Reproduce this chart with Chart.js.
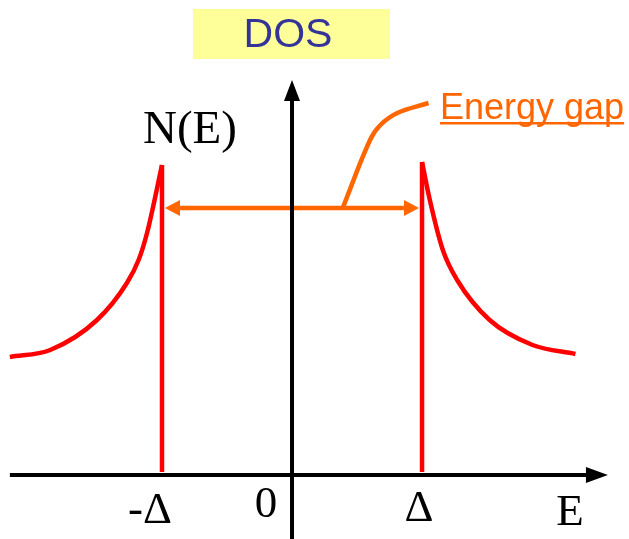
<!DOCTYPE html>
<html>
<head>
<meta charset="utf-8">
<script src="https://cdn.jsdelivr.net/npm/chart.js@4.4.1/dist/chart.umd.min.js"></script>
<style>
html,body{margin:0;padding:0;background:#fff;}
#wrap{width:629px;height:539px;}
</style>
</head>
<body>
<div id="wrap"><canvas id="c" width="629" height="539"></canvas></div>
<script>
// Energy in units of the gap Δ, density of states in arbitrary units
const leftE  = [-2.17, -1.86, -1.50, -1.27, -1.18, -1.115, -1.0];
const leftN  = [1.18, 1.25, 1.55, 1.92, 2.15, 2.42, 3.10];
const rightE = [1.0, 1.06, 1.16, 1.27, 1.52, 1.85, 2.18];
const rightN = [3.13, 2.75, 2.25, 1.95, 1.55, 1.30, 1.21];
const gapEdges = [-1, 1];
const gapArrowN = 2.67;
const leaderE = [0.39, 0.60, 0.68, 0.81, 1.05];
const leaderN = [2.67, 3.35, 3.50, 3.62, 3.72];
const tickValues = [-1, 0, 1];
const tickLabels = ['-Δ', '0', 'Δ'];
const axisLabelX = 'E';
const axisLabelY = 'N(E)';
const titleText = 'DOS';
const annotText = 'Energy gap';

const X_MIN = -2.246, X_MAX = 2.592, Y_MIN = -0.64, Y_MAX = 4.75;

const toPts = (xs, ys) => xs.map((x, i) => ({x: x, y: ys[i]}));

const RED = '#ff0000', ORANGE = '#ff6600';

const decor = {
  id: 'decor',
  afterDatasetsDraw(chart) {
    const ctx = chart.ctx;
    const xs = chart.scales.x, ys = chart.scales.y;
    const px = v => xs.getPixelForValue(v), py = v => ys.getPixelForValue(v);
    ctx.save();
    // axes
    ctx.strokeStyle = '#000'; ctx.fillStyle = '#000'; ctx.lineWidth = 4; ctx.lineCap = 'butt';
    const y0 = py(0), x0 = px(0);
    const xStart = px(-2.17), xTip = px(2.43);
    const yBottom = py(Y_MIN), yTip = py(3.95);
    ctx.beginPath(); ctx.moveTo(xStart, y0); ctx.lineTo(xTip - 18, y0); ctx.stroke();
    ctx.beginPath(); ctx.moveTo(xTip, y0); ctx.lineTo(xTip - 22, y0 - 8); ctx.lineTo(xTip - 22, y0 + 8); ctx.closePath(); ctx.fill();
    ctx.beginPath(); ctx.moveTo(x0, yBottom); ctx.lineTo(x0, yTip + 18); ctx.stroke();
    ctx.beginPath(); ctx.moveTo(x0, yTip); ctx.lineTo(x0 - 8, yTip + 21); ctx.lineTo(x0 + 8, yTip + 21); ctx.closePath(); ctx.fill();
    // gap arrow heads
    ctx.fillStyle = ORANGE;
    const ga = py(gapArrowN);
    const lt = px(gapEdges[0]) + 3, rt = px(gapEdges[1]) - 3;
    ctx.beginPath(); ctx.moveTo(lt, ga); ctx.lineTo(lt + 15, ga - 8); ctx.lineTo(lt + 15, ga + 8); ctx.closePath(); ctx.fill();
    ctx.beginPath(); ctx.moveTo(rt, ga); ctx.lineTo(rt - 15, ga - 8); ctx.lineTo(rt - 15, ga + 8); ctx.closePath(); ctx.fill();
    // tick labels (serif)
    ctx.fillStyle = '#000';
    ctx.font = '45px "Liberation Serif", "DejaVu Serif", serif';
    ctx.textBaseline = 'alphabetic';
    ctx.textAlign = 'center';
    const tickOffsets = [-12, -26, -3];
    const tickBase = [523, 517, 521];
    tickValues.forEach((v, i) => {
      ctx.fillText(tickLabels[i], px(v) + tickOffsets[i], tickBase[i]);
    });
    ctx.fillText(axisLabelX, 570, 525);
    ctx.font = '47px "Liberation Serif", "DejaVu Serif", serif';
    ctx.fillText(axisLabelY, 190, 143);
    // title box
    ctx.fillStyle = '#ffff99';
    ctx.fillRect(193, 9, 197, 50);
    ctx.fillStyle = '#333399';
    ctx.font = '41px "Liberation Sans", Arial, sans-serif';
    ctx.textAlign = 'center';
    ctx.fillText(titleText, 288, 47);
    // annotation
    ctx.fillStyle = ORANGE;
    ctx.font = '36px "Liberation Sans", Arial, sans-serif';
    ctx.textAlign = 'left';
    ctx.fillText(annotText, 440, 119);
    const w = ctx.measureText(annotText).width;
    ctx.fillRect(440, 122, w, 2.5);
    ctx.restore();
  }
};

new Chart(document.getElementById('c'), {
  type: 'scatter',
  data: {
    datasets: [
      {data: toPts(leftE, leftN), showLine: true, borderColor: RED, borderWidth: 4.5, pointRadius: 0, cubicInterpolationMode: 'monotone'},
      {data: toPts(rightE, rightN), showLine: true, borderColor: RED, borderWidth: 4.5, pointRadius: 0, cubicInterpolationMode: 'monotone'},
      {data: [{x: gapEdges[0], y: leftN[leftN.length - 1]}, {x: gapEdges[0], y: 0.03}], showLine: true, borderColor: RED, borderWidth: 4.5, pointRadius: 0},
      {data: [{x: gapEdges[1], y: rightN[0]}, {x: gapEdges[1], y: 0.03}], showLine: true, borderColor: RED, borderWidth: 4.5, pointRadius: 0},
      {data: [{x: gapEdges[0] + 0.1, y: gapArrowN}, {x: gapEdges[1] - 0.1, y: gapArrowN}], showLine: true, borderColor: ORANGE, borderWidth: 4.5, pointRadius: 0},
      {data: toPts(leaderE, leaderN), showLine: true, borderColor: ORANGE, borderWidth: 4.5, pointRadius: 0, tension: 0.4}
    ]
  },
  options: {
    responsive: false,
    animation: false,
    layout: {padding: 0},
    plugins: {legend: {display: false}, tooltip: {enabled: false}, title: {display: false}},
    scales: {
      x: {type: 'linear', min: X_MIN, max: X_MAX, display: false},
      y: {type: 'linear', min: Y_MIN, max: Y_MAX, display: false}
    }
  },
  plugins: [decor]
});
</script>
</body>
</html>
